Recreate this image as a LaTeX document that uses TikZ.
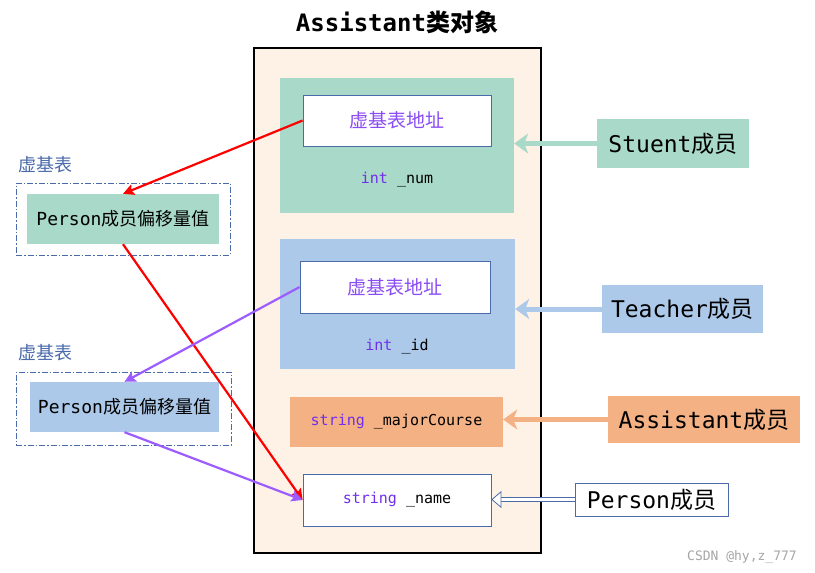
\documentclass[tikz,border=0pt]{standalone}
\usepackage{fontspec}
\setmainfont{DejaVu Sans Mono}
\newfontfamily\cjk{Noto Sans CJK SC}
\usetikzlibrary{arrows.meta,calc}
\definecolor{peach}{HTML}{FEF1E6}
\definecolor{mgreen}{HTML}{A9D9C8}
\definecolor{mblue}{HTML}{ADC9EA}
\definecolor{morange}{HTML}{F4B183}
\definecolor{bborder}{HTML}{4A6AAA}
\definecolor{kwpurple}{HTML}{7030E8}
\definecolor{vpurple}{HTML}{8A4CF5}
\definecolor{apurple}{HTML}{9C5CFF}
\newcommand\kwd[1]{\textcolor{kwpurple}{#1}}
\tikzset{
  rbox/.style={rectangle, inner sep=0pt, anchor=center},
  whitebox/.style={rbox, fill=white, draw=bborder, line width=0.8pt},
  dashbox/.style={rbox, draw=bborder, line width=0.8pt, dash pattern=on 6pt off 2pt on 1.5pt off 2pt},
  sidearrow/.style={line width=5pt, -{Stealth[length=14pt,width=20pt,inset=4pt]}},
  linkarrow/.style={line width=2.2pt, -{Stealth[length=11pt,width=11pt,inset=2pt]}},
  memberlabel/.style={font=\fontsize{23}{26}\selectfont},
  small/.style={font=\fontsize{15}{18}\selectfont},
}
\begin{document}
\begin{tikzpicture}[x=1pt,y=-1pt]
\useasboundingbox (0,0) rectangle (815,573);
\fill[white] (0,0) rectangle (815,573);

% title
\node[rbox, font=\fontsize{24}{28}\selectfont\bfseries] (title) at (397,22) {Assistant{\cjk 类对象}};

% outer object
\node[rbox, fill=peach, draw=black, line width=2.5pt, minimum width=287pt, minimum height=505pt] (obj) at (397.5,300.5) {};

% Student part
\node[rbox, fill=mgreen, minimum width=234pt, minimum height=135pt] (stupart) at (397,145.5) {};
\node[whitebox, minimum width=188pt, minimum height=51pt, font=\fontsize{19}{22}\selectfont\cjk, text=vpurple] (vb1) at (397,120.5) {虚基表地址};
\node[rbox, small] (num) at (397,180) {\kwd{int} \_num};

% Teacher part
\node[rbox, fill=mblue, minimum width=235pt, minimum height=130pt] (teapart) at (397.5,304) {};
\node[whitebox, minimum width=190pt, minimum height=52pt, font=\fontsize{19}{22}\selectfont\cjk, text=vpurple] (vb2) at (395,287) {虚基表地址};
\node[rbox, small] (id) at (397,347) {\kwd{int} \_id};

% Assistant part
\node[rbox, fill=morange, minimum width=213pt, minimum height=50pt, small] (major) at (396.5,422) {\kwd{string} \_majorCourse};

% Person part
\node[whitebox, minimum width=188pt, minimum height=52pt, small] (name) at (397,500) {\kwd{string} \_name};

% right labels
\node[rbox, fill=mgreen, minimum width=152pt, minimum height=49pt, memberlabel] (stu) at (673,143.5) {Stuent{\cjk 成员}};
\node[rbox, fill=mblue, minimum width=161pt, minimum height=48pt, memberlabel] (tea) at (682.5,309) {Teacher{\cjk 成员}};
\node[rbox, fill=morange, minimum width=192pt, minimum height=47pt, memberlabel] (asi) at (704,419.5) {Assistant{\cjk 成员}};
\node[whitebox, minimum width=153pt, minimum height=33pt, memberlabel] (per) at (651.5,499.5) {Person{\cjk 成员}};

\draw[sidearrow, mgreen] (stu.west) -- (stu.west -| stupart.east);
\draw[sidearrow, mblue] (tea.west) -- (tea.west -| teapart.east);
\draw[sidearrow, morange] (asi.west) -- (asi.west -| major.east);
\draw[draw=bborder, line width=0.7pt, double=white, double distance=3.5pt,
  -{Triangle[open, length=10pt, width=17pt, fill=white, line width=0.8pt]}] (per.west) -- (per.west -| name.east);

% left virtual base tables
\node[rbox, text=bborder, font=\fontsize{18}{21}\selectfont\cjk] (lab1) at (46,165) {虚基表};
\node[dashbox, minimum width=214pt, minimum height=72pt] (vt1) at (123,219) {};
\node[rbox, fill=mgreen, minimum width=192pt, minimum height=50pt, font=\fontsize{18}{21}\selectfont] (off1) at (123,219) {Person{\cjk 成员偏移量值}};

\node[rbox, text=bborder, font=\fontsize{18}{21}\selectfont\cjk] (lab2) at (46,353) {虚基表};
\node[dashbox, minimum width=215pt, minimum height=73pt] (vt2) at (123.5,408.5) {};
\node[rbox, fill=mblue, minimum width=189pt, minimum height=50pt, font=\fontsize{18}{21}\selectfont] (off2) at (124.5,407) {Person{\cjk 成员偏移量值}};

% links
\draw[linkarrow, red] (vb1.west) -- (off1.north);
\draw[linkarrow, red] (off1.south) -- (name.west);
\draw[linkarrow, apurple] (vb2.west) -- (off2.north);
\draw[linkarrow, apurple] (off2.south) -- (name.west);

% watermark
\node[rbox, text=black!35, font=\fontsize{13}{15}\selectfont] (wm) at (742,557) {CSDN @hy,z\_777};
\end{tikzpicture}
\end{document}
